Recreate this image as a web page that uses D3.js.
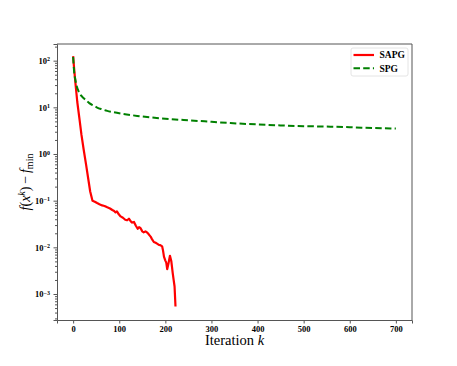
<!DOCTYPE html>
<html>
<head>
	<meta http-equiv="Content-Type" content="text/html; charset=utf-8">
	<title>SAPG vs SPG</title>
	<script src="https://d3js.org/d3.v7.min.js"></script>
	<style>
		body { margin: 0; background: #fff; }
		text { font-family: 'Liberation Serif', 'Times New Roman', serif; }
		.tick text { font-weight: bold; font-size: 8.5px; fill: #000; }
		.domain { stroke: #555; }
		.tick line { stroke: #555; }
	</style>
</head>
<body>
<script>
	// iterations / objective gap
	var sapgIter = [0, 2, 5, 9, 14, 18, 23, 28, 32, 37, 42, 47, 52, 57, 63, 68, 74, 80, 85, 89, 92, 95, 99, 103, 108, 113, 117, 121, 125, 128, 132, 136, 140, 143, 146, 150, 153, 157, 160, 164, 168, 171, 175, 179, 182, 186, 189, 193, 195, 197, 200, 202, 204, 207, 210, 213, 216, 218, 220, 222];
	var sapgVal  = [125, 70, 33, 13, 5.4, 2.6, 1.22, 0.6, 0.33, 0.157, 0.1, 0.095, 0.089, 0.084, 0.079, 0.077, 0.072, 0.068, 0.063, 0.06, 0.056, 0.059, 0.051, 0.046, 0.043, 0.039, 0.038, 0.041, 0.036, 0.034, 0.035, 0.029, 0.025, 0.027, 0.026, 0.022, 0.021, 0.022, 0.021, 0.019, 0.017, 0.015, 0.013, 0.0125, 0.012, 0.0113, 0.0112, 0.0105, 0.0085, 0.0063, 0.0052, 0.0047, 0.0034, 0.0046, 0.0066, 0.005, 0.0028, 0.002, 0.00145, 0.00054];

	var spgIter = [0, 2, 5, 8, 12, 17, 23, 35, 45, 52, 62, 74, 88, 100, 120, 139, 170, 211, 240, 272, 300, 341, 400, 450, 500, 558, 600, 650, 700];
	var spgVal  = [120, 60, 38, 28, 22, 18, 15.7, 12.3, 10.8, 9.9, 9.1, 8.4, 7.85, 7.45, 6.95, 6.55, 6.05, 5.6, 5.35, 5.1, 4.9, 4.6, 4.3, 4.1, 3.95, 3.85, 3.75, 3.6, 3.5];

	var xTicks = [0, 100, 200, 300, 400, 500, 600, 700];
	var yExps = [-3, -2, -1, 0, 1, 2];
	var seriesNames = ["SAPG", "SPG"];

	var W = 457, H = 366;
	var margin = {top: 44, right: 45, bottom: 46, left: 57};

	var svg = d3.select("body").append("svg")
			.attr("width", W)
			.attr("height", H);

	var x = d3.scaleLinear()
			.domain([-35, 735])
			.range([margin.left, W - margin.right]);

	var y = d3.scaleLog()
			.domain([Math.pow(10, -3.557), Math.pow(10, 2.357)])
			.range([H - margin.bottom, margin.top]);

	svg.append("clipPath").attr("id", "clip")
		.append("rect")
		.attr("x", margin.left).attr("y", margin.top)
		.attr("width", W - margin.left - margin.right)
		.attr("height", H - margin.top - margin.bottom);

	// x axis
	svg.append("g")
			.attr("transform", "translate(0," + (H - margin.bottom) + ")")
			.call(d3.axisBottom(x).tickValues(xTicks).tickSize(3.5).tickPadding(2).tickFormat(d3.format("d")));

	// y axis: minor ticks first
	var minor = [];
	for (var e = -4; e <= 2; e++) {
		for (var m = 2; m <= 9; m++) {
			var v = m * Math.pow(10, e);
			if (v >= y.domain()[0] && v <= y.domain()[1]) minor.push(v);
		}
	}
	svg.append("g")
			.attr("transform", "translate(" + margin.left + ",0)")
			.call(d3.axisLeft(y).tickValues(minor).tickSize(2).tickFormat(""))
			.call(function(g) { g.select(".domain").remove(); });

	var yAxis = svg.append("g")
			.attr("transform", "translate(" + margin.left + ",0)")
			.call(d3.axisLeft(y).tickValues(yExps.map(function(d) { return Math.pow(10, d); }))
				.tickSize(3.5).tickPadding(3).tickFormat(""));

	yAxis.selectAll(".tick").each(function(d) {
		var t = d3.select(this).append("text")
				.attr("x", -7)
				.attr("dy", "0.32em")
				.attr("text-anchor", "end")
				.attr("fill", "#000");
		t.append("tspan").text("10");
		t.append("tspan")
				.attr("dy", "-0.45em")
				.attr("font-size", "6px")
				.text(String(Math.round(Math.log10(d))).replace("-", "\u2212"));
	});

	// top and right spines
	svg.append("path")
			.attr("d", "M" + margin.left + "," + margin.top + "H" + (W - margin.right) + "V" + (H - margin.bottom))
			.attr("fill", "none")
			.attr("stroke", "#555");

	// lines
	var sapg = sapgIter.map(function(d, i) { return [d, sapgVal[i]]; });
	var spg = spgIter.map(function(d, i) { return [d, spgVal[i]]; });

	var line = d3.line()
			.x(function(d) { return x(d[0]); })
			.y(function(d) { return y(d[1]); });

	var plot = svg.append("g").attr("clip-path", "url(#clip)");

	plot.append("path")
			.datum(sapg)
			.attr("d", line)
			.attr("fill", "none")
			.attr("stroke", "#ff0000")
			.attr("stroke-width", 2.2)
			.attr("stroke-linejoin", "round");

	plot.append("path")
			.datum(spg)
			.attr("d", line.curve(d3.curveMonotoneX))
			.attr("fill", "none")
			.attr("stroke", "#008000")
			.attr("stroke-width", 2)
			.attr("stroke-dasharray", "6.5,3.2");

	// axis labels
	svg.append("text")
			.attr("x", (margin.left + W - margin.right) / 2)
			.attr("y", 345)
			.attr("text-anchor", "middle")
			.attr("font-size", "14.5px")
			.call(function(t) {
				t.append("tspan").text("Iteration ");
				t.append("tspan").attr("font-style", "italic").text("k");
			});

	var yl = svg.append("text")
			.attr("transform", "translate(30," + ((margin.top + H - margin.bottom) / 2) + ") rotate(-90)")
			.attr("text-anchor", "middle")
			.attr("font-size", "14px");
	yl.append("tspan").attr("font-style", "italic").text("f");
	yl.append("tspan").text("(");
	yl.append("tspan").attr("font-style", "italic").text("x");
	yl.append("tspan").attr("font-style", "italic").attr("font-size", "10px").attr("dy", "-0.5em").text("k");
	yl.append("tspan").attr("dy", "0.35em").text(")\u2009\u2212\u2009");
	yl.append("tspan").attr("font-style", "italic").text("f");
	yl.append("tspan").attr("font-size", "10px").attr("dy", "0.3em").text("min");

	// legend
	var lg = svg.append("g").attr("transform", "translate(351,48)");
	lg.append("rect")
			.attr("width", 57).attr("height", 28)
			.attr("rx", 2)
			.attr("fill", "#fff")
			.attr("stroke", "#ddd")
			.attr("stroke-width", 0.8);
	var styles = [{c: "#ff0000", w: 2.2, dash: null}, {c: "#008000", w: 2, dash: "6.5,3.2"}];
	seriesNames.forEach(function(name, i) {
		var yy = 7 + i * 13.3;
		lg.append("line")
				.attr("x1", 2.5).attr("x2", 23)
				.attr("y1", yy).attr("y2", yy)
				.attr("stroke", styles[i].c)
				.attr("stroke-width", styles[i].w)
				.attr("stroke-dasharray", styles[i].dash);
		lg.append("text")
				.attr("x", 28.5).attr("y", yy)
				.attr("dy", "0.35em")
				.attr("font-size", "9.5px")
				.attr("font-weight", "bold")
				.text(name);
	});
</script>
</body>
</html>
